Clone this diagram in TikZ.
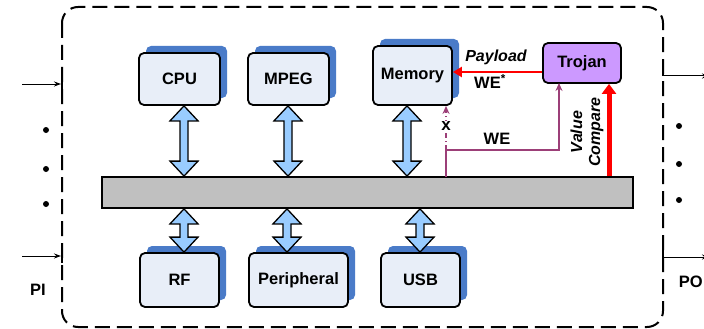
\documentclass[tikz,border=0pt]{standalone}
\usepackage{fontspec}
\setmainfont{Liberation Sans}
\usetikzlibrary{shadows,arrows.meta,calc}
\definecolor{boxfill}{HTML}{E8EEF8}
\definecolor{boxshade}{HTML}{4A7BC8}
\definecolor{busarrow}{HTML}{99CCFF}
\definecolor{trojfill}{HTML}{CC99FF}
\definecolor{wire}{HTML}{9C3F78}
\definecolor{busfill}{HTML}{C0C0C0}
% fat two-headed bus link between two vertically aligned points:
% #1 upper end, #2 lower end
\newcommand\buslink[2]{%
  \draw[fatarrow] let \p1=(#1), \p2=(#2) in
    (\x1,\y1) -- (\x1+14pt,\y1-15pt) -- (\x1+4pt,\y1-15pt) --
    (\x1+4pt,\y2+15pt) -- (\x1+14pt,\y2+15pt) -- (\x1,\y2) --
    (\x1-14pt,\y2+15pt) -- (\x1-4pt,\y2+15pt) -- (\x1-4pt,\y1-15pt) --
    (\x1-14pt,\y1-15pt) -- cycle;}
\begin{document}
\begin{tikzpicture}[x=1pt,y=-1pt,
  lbl/.style={font=\fontsize{16.5}{19}\selectfont\bfseries},
  ilbl/.style={font=\fontsize{16}{18}\selectfont\bfseries\itshape},
  ipblock/.style={draw=black,line width=1.8pt,rounded corners=5pt,fill=boxfill,
    inner sep=0pt,lbl,
    general shadow={fill=boxshade,shadow xshift=7pt,shadow yshift=7pt,rounded corners=5pt}},
  fatarrow/.style={draw=black,line width=1.3pt,fill=busarrow,line join=miter},
  pin/.style={line width=1pt,-{Stealth[length=7pt,width=5pt]}},
  dotmark/.style={circle,fill=black,inner sep=0pt,minimum size=6pt}]
\useasboundingbox (0,0) rectangle (704,329);

% chip outline
\draw[line width=2pt,dash pattern=on 15pt off 7pt,rounded corners=16pt]
  (62,7) rectangle (663,327);

% system bus
\node[draw=black,line width=1.8pt,fill=busfill,minimum width=531pt,minimum height=31pt,inner sep=0pt]
  (bus) at (367.5,192.5) {};

% IP blocks above the bus
\node[ipblock,minimum width=81pt,minimum height=52pt] (cpu) at (179.5,79) {CPU};
\node[ipblock,minimum width=81pt,minimum height=52pt] (mpeg) at (288.5,79) {MPEG};
\node[ipblock,minimum width=79pt,minimum height=59pt] (mem) at (412.5,75.5) {Memory};

% IP blocks below the bus
\node[ipblock,minimum width=79pt,minimum height=54pt] (rf) at (179.5,280) {RF};
\node[ipblock,minimum width=99pt,minimum height=54pt] (per) at (298.5,280) {Peripheral};
\node[ipblock,minimum width=79pt,minimum height=54pt] (usb) at (420.5,280) {USB};

% Trojan
\node[draw=black,line width=1.8pt,rounded corners=5pt,fill=trojfill,lbl,
  minimum width=78pt,minimum height=40pt,inner sep=0pt] (troj) at (582,63) {Trojan};

% bus connections
\coordinate (xcpu) at (184,0);
\coordinate (xmpeg) at (288,0);
\coordinate (xmem) at (407,0);
\coordinate (xrf) at (184,0);
\coordinate (xper) at (287,0);
\coordinate (xusb) at (420,0);
\buslink{cpu.south -| xcpu}{bus.north -| xcpu}
\buslink{mpeg.south -| xmpeg}{bus.north -| xmpeg}
\buslink{mem.south -| xmem}{bus.north -| xmem}
\buslink{bus.south -| xrf}{rf.north -| xrf}
\buslink{bus.south -| xper}{per.north -| xper}
\buslink{bus.south -| xusb}{usb.north -| xusb}

% write-enable path hijacked by the Trojan
\coordinate (we0) at (446,177);
\coordinate (wej) at (446,150);
\coordinate (trin) at (559,83);
\draw[wire,line width=2pt,-{Stealth[length=8pt,width=7pt]}]
  (we0) -- (wej) -| (trin);
\draw[wire,line width=2pt,dash pattern=on 5pt off 3pt on 1.5pt off 3pt,
  -{Stealth[length=8pt,width=7pt]}] (wej) -- (wej |- mem.south);
\node[fill=white,inner sep=0.5pt,font=\fontsize{17}{17}\selectfont\bfseries] (xmark) at (446,126) {x};
\node[lbl,anchor=south] (welbl) at (497,148) {WE};

% payload
\coordinate (pl) at (0,72);
\draw[red,line width=2.6pt,-{Triangle[length=9pt,width=10pt]}]
  (troj.west |- pl) -- (mem.east |- pl);
\node[ilbl,anchor=south] (plbl) at (496,68) {Payload};
\node[lbl,anchor=north] (wes) at (490,71) {WE\textsuperscript{*}};

% compare value
\coordinate (cmp) at (609,0);
\draw[red,line width=5pt,-{Triangle[length=10pt,width=14pt]}]
  (bus.north -| cmp) -- (troj.south -| cmp);
\node[ilbl,rotate=90,align=center,inner sep=0pt] (cval) at (587,132) {Value\\Compare};

% primary inputs
\draw[pin] (22,84) -- (61,84);
\draw[pin] (22,256) -- (61,256);
\draw[line width=1.2pt] (62,77) -- (62,91);
\draw[line width=1.2pt] (62,249) -- (62,263);
\node[dotmark] (pi1) at (46,130) {};
\node[dotmark] (pi2) at (46,169) {};
\node[dotmark] (pi3) at (46,204) {};
\node[lbl] (pilbl) at (38,290) {PI};

% primary outputs
\draw[line width=1.2pt] (663,65) -- (663,76);
\draw[line width=1.2pt] (663,245) -- (663,257);
\draw[pin] (663,76) -- (709,76);
\draw[pin] (663,257) -- (709,257);
\node[dotmark] (po1) at (679,126) {};
\node[dotmark] (po2) at (679,164) {};
\node[dotmark] (po3) at (679,200) {};
\node[lbl,anchor=east,inner sep=0pt] (polbl) at (703,282) {PO};
\end{tikzpicture}
\end{document}
